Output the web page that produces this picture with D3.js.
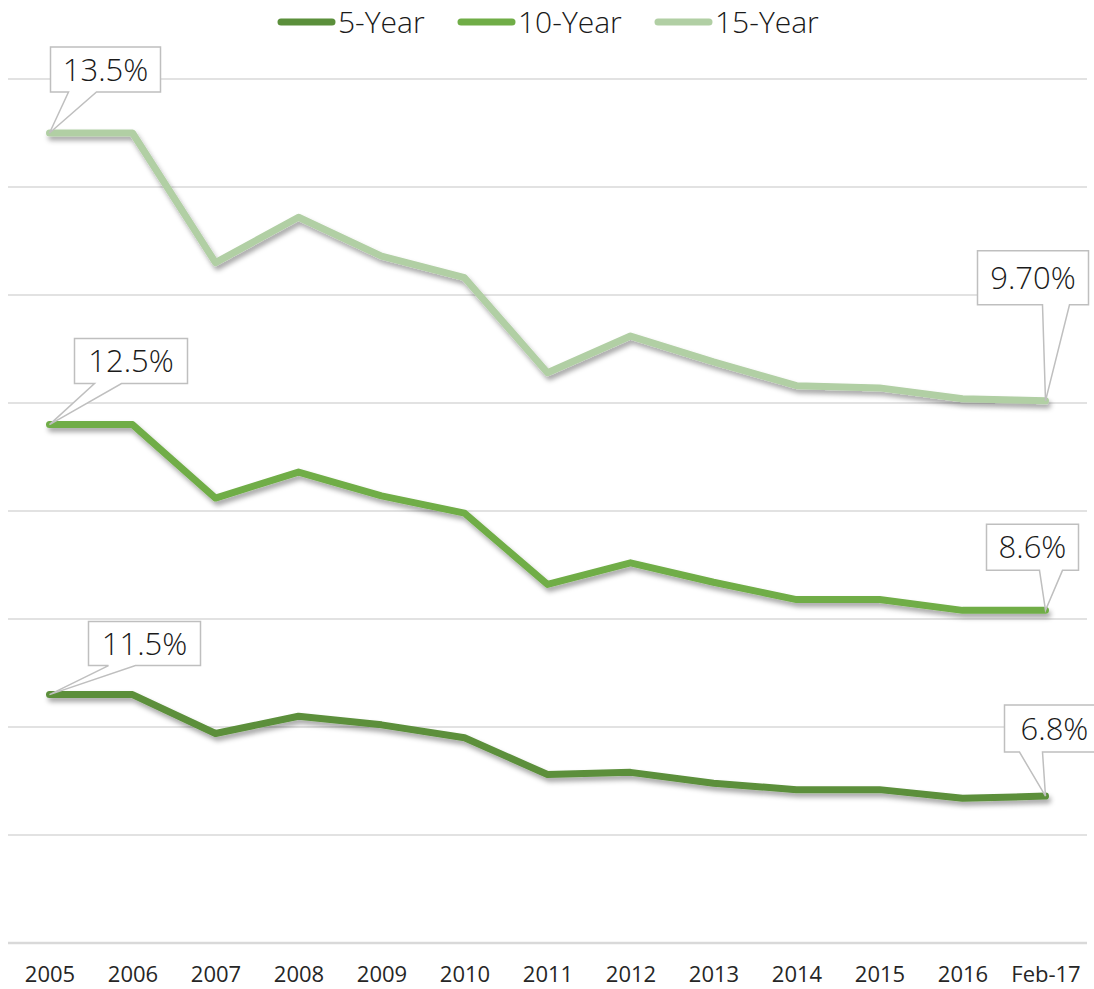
<!DOCTYPE html>
<html><head><meta charset="utf-8">
<script src="https://cdn.jsdelivr.net/npm/d3@7"></script>
<style>
html,body{margin:0;padding:0;background:#fff;}
svg{display:block;font-family:"Open Sans",sans-serif;}
</style></head>
<body>
<svg id="chart" width="1094" height="989"></svg>
<script>
// ---- data ----
const categories = ["2005","2006","2007","2008","2009","2010","2011","2012","2013","2014","2015","2016","Feb-17"];
const seriesNames = ["5-Year","10-Year","15-Year"];
const fiveYear    = [11.5,11.5,9.7,10.5,10.1,9.5,7.8,7.9,7.4,7.1,7.1,6.7,6.8];
const tenYear     = [12.5,12.5,10.9,11.3,10.6,10.4,8.8,9.7,9.3,8.8,8.8,8.7,8.6];
const fifteenYear = [13.5,13.5,10.9,11.8,11.1,10.9,9.8,10.5,10.2,9.9,9.8,9.8,9.7];
const yTicks = [0,5,10,15,20,25,30,35,40];
// data labels: [series index, category index, decimals]
const dataLabels = [[2,0,1],[1,0,1],[0,0,1],[2,12,2],[1,12,1],[0,12,1]];

// ---- styling / layout ----
const colors = ["#5B8F3B","#70AD47","#B1CFA4"];
const svg = d3.select("#chart");
const plotL = 8, plotR = 1087, plotT = 79, plotB = 943;

const x = d3.scalePoint().domain(categories).range([plotL, plotR]).padding(0.5);
const y = d3.scaleLinear().domain([0,40]).range([plotB, plotT]);

const defs = svg.append("defs");
const f = defs.append("filter").attr("id","sh").attr("x","-5%").attr("y","-20%").attr("width","110%").attr("height","160%");
f.append("feDropShadow").attr("dx",2).attr("dy",4).attr("stdDeviation",2.5).attr("flood-color","#000").attr("flood-opacity",0.35);

// gridlines
svg.append("g").selectAll("line").data(yTicks).join("line")
  .attr("x1",plotL).attr("x2",plotR)
  .attr("y1",d=>y(d)).attr("y2",d=>y(d))
  .attr("stroke","#D9D9D9").attr("stroke-width",d=>d===0?2.5:1.5);

// x axis labels
const xAxis = d3.axisBottom(x).tickSize(0).tickPadding(0);
const gx = svg.append("g").attr("transform",`translate(0,${plotB})`).call(xAxis);
gx.select(".domain").remove();
gx.selectAll("text").attr("font-size",22).attr("fill","#262626")
  .attr("font-family","'Open Sans',sans-serif").attr("dy",null).attr("y",39);

// stacked
const raw = [fiveYear, tenYear, fifteenYear];
const stacked = categories.map((c,i)=>{const row={cat:c}; seriesNames.forEach((s,k)=>row[s]=raw[k][i]); return row;});
const stack = d3.stack().keys(seriesNames)(stacked);

const line = d3.line().x((d,i)=>x(categories[i])).y(d=>y(d[1]));
svg.append("g").selectAll("path").data(stack).join("path")
  .attr("d",line).attr("fill","none")
  .attr("stroke",(d,i)=>colors[i]).attr("stroke-width",7)
  .attr("stroke-linejoin","round").attr("stroke-linecap","round")
  .attr("filter","url(#sh)");

// callouts
const calloutLayout = [
  {dx:1,  dy:-86,  w:110, h:45, b1:18, b2:46},
  {dx:25, dy:-86,  w:113, h:45, b1:20, b2:47},
  {dx:39, dy:-73,  w:112, h:44, b1:20, b2:47},
  {dx:-68,dy:-150, w:111, h:54, b1:65, b2:92},
  {dx:-59,dy:-86,  w:92,  h:46, b1:53, b2:76},
  {dx:-41,dy:-91,  w:100, h:47, b1:15, b2:38}
];
const cg = svg.append("g");
dataLabels.forEach(([s,c,dec],k)=>{
  const px = x(categories[c]), py = y(stack[s][c][1]);
  const L = calloutLayout[k];
  const bx = px+L.dx, by = py+L.dy, bw=L.w, bh=L.h;
  const p = d3.path();
  p.moveTo(bx,by); p.lineTo(bx+bw,by); p.lineTo(bx+bw,by+bh);
  p.lineTo(bx+L.b2,by+bh); p.lineTo(px,py); p.lineTo(bx+L.b1,by+bh);
  p.lineTo(bx,by+bh); p.closePath();
  cg.append("path").attr("d",p.toString()).attr("fill","#fff").attr("stroke","#BFBFBF").attr("stroke-width",1.5);
  cg.append("text").attr("x",bx+bw/2).attr("y",by+bh/2+11)
    .attr("text-anchor","middle").attr("font-size",31).attr("font-weight",300).attr("fill","#1a1a1a")
    .text(raw[s][c].toFixed(dec)+"%");
});

// legend
const legendItems = [{x:278},{x:458},{x:655}];
const lg = svg.append("g");
seriesNames.forEach((s,i)=>{
  const lx = legendItems[i].x;
  lg.append("line").attr("x1",lx+3).attr("x2",lx+54).attr("y1",22).attr("y2",22)
    .attr("stroke",colors[i]).attr("stroke-width",7).attr("stroke-linecap","round");
  lg.append("text").attr("x",lx+60).attr("y",33).attr("font-size",30).attr("font-weight",300).attr("fill","#1a1a1a").text(s);
});
</script>
</body></html>
